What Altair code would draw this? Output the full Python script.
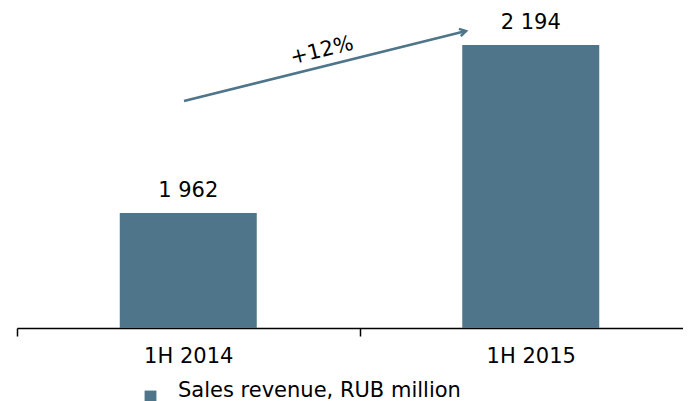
import altair as alt
import pandas as pd

periods = ["1H 2014", "1H 2015"]
revenue = [1962, 2194]
series_name = "Sales revenue, RUB million"
growth_label = "+12%"

BAR = "#4e7589"
FONT = "DejaVu Sans"

df = pd.DataFrame({
    "period": periods,
    "value": revenue,
    "label": [f"{v:,}".replace(",", " ") for v in revenue],
    "series": [series_name] * len(periods),
})

x_enc = alt.X("period:N", sort=periods, title=None,
              scale=alt.Scale(paddingInner=0, paddingOuter=0, range=[0, 685]),
              axis=alt.Axis(labelAngle=0, tickBand="extent", domainColor="#000000",
                            domainWidth=1.5, tickColor="#000000", tickWidth=1.5,
                            tickSize=8, labelFontSize=21, labelColor="#000000",
                            labelFont=FONT, labelPadding=9, grid=False))
y_enc = alt.Y("value:Q", scale=alt.Scale(domain=[1803, 2245], zero=False, nice=False),
              axis=None)

bars = alt.Chart(df).mark_bar(size=137, clip=True).encode(
    x=x_enc, y=y_enc,
    color=alt.Color("series:N", scale=alt.Scale(range=[BAR]),
                    legend=alt.Legend(title=None, orient="none", legendX=123, legendY=378,
                                      symbolType="square", symbolSize=140,
                                      symbolStrokeWidth=0, labelFontSize=21,
                                      labelFont=FONT, labelColor="#000000",
                                      labelOffset=17, labelBaseline="alphabetic",
                                      padding=0, labelLimit=500)),
)

labels = alt.Chart(df).mark_text(fontSize=21, font=FONT, color="#000000",
                                 baseline="alphabetic", dy=-16).encode(
    x=alt.X("period:N", sort=periods), y="value:Q", text="label:N")

arrow = alt.Chart(pd.DataFrame({"a": [0]})).mark_rule(color=BAR, strokeWidth=2.5).encode(
    x=alt.value(167), y=alt.value(93), x2=alt.value(449), y2=alt.value(23))

head = alt.Chart(pd.DataFrame({"a": [0]})).mark_point(
    shape="M -1 -0.6 L 0 0 L -1 0.6", filled=False, color=BAR, strokeWidth=2.5,
    size=160, angle=346, opacity=1).encode(x=alt.value(449), y=alt.value(23))

growth = alt.Chart(pd.DataFrame({"t": [growth_label]})).mark_text(
    fontSize=21, font=FONT, color="#000000", angle=346).encode(
    x=alt.value(305), y=alt.value(43), text="t:N")

chart = alt.layer(bars, labels, arrow, head, growth).properties(
    width=666, height=320,
    autosize=alt.AutoSizeParams(type="none"),
    padding={"left": 9, "top": 0, "right": 0, "bottom": 73},
).configure_view(stroke=None)

chart.save("out.html", embed_options={"renderer": "svg", "actions": False})
